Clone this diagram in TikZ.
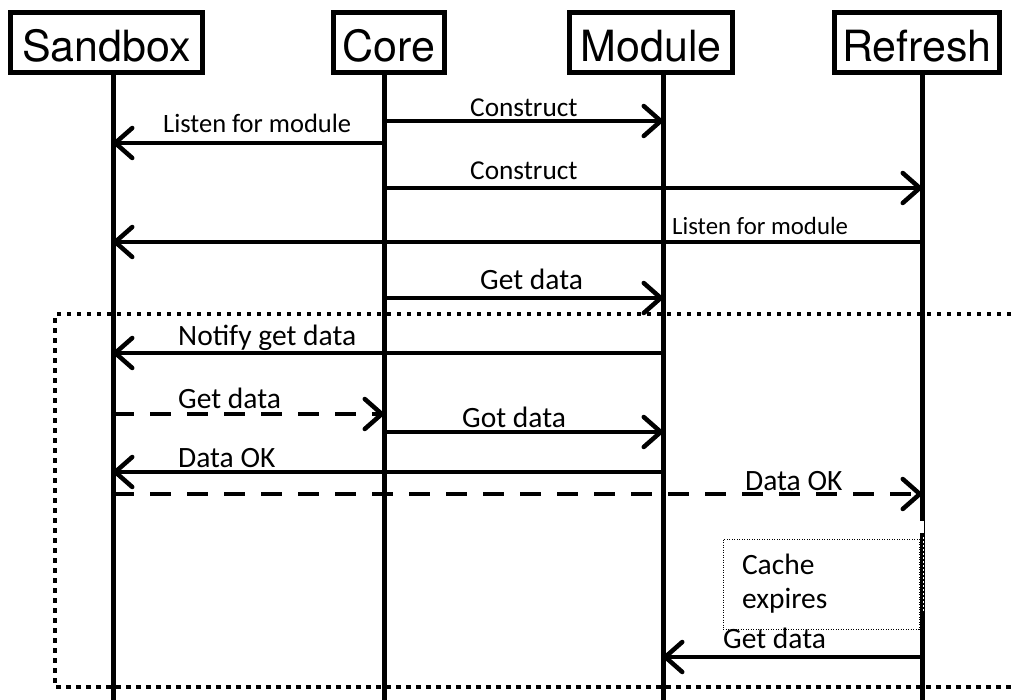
\documentclass[tikz,border=0pt]{standalone}
\usepackage{fontspec}
\setmainfont{Carlito}
\newfontfamily\hdrfont{TeX Gyre Heros}
\usetikzlibrary{arrows.meta}
\begin{document}
\begin{tikzpicture}[x=1pt,y=-1pt,
  actor/.style={draw, line width=5pt, font=\hdrfont\fontsize{43}{50}\selectfont,
    text height=39pt, text depth=0pt, inner sep=0pt, minimum height=60pt},
  life/.style={line width=5pt},
  msg/.style={line width=4.5pt, -{Straight Barb[length=17pt,width=30pt,round]}},
  dmsg/.style={msg, dash pattern=on 21pt off 16pt},
  lbl/.style={font=\fontsize{29.5}{34}\selectfont, inner sep=0pt, anchor=base west},
  frame/.style={line width=4.5pt, dash pattern=on 4.5pt off 5.5pt},
  cachebox/.style={draw, line width=1pt, dash pattern=on 1pt off 1.5pt,
    minimum width=196pt, minimum height=90pt, text width=158pt, inner xsep=19pt,
    align=left, font=\fontsize{29.5}{34}\selectfont},
]
\useasboundingbox[fill=white] (0,0) rectangle (1011,700);

% actors
\node[actor, minimum width=192pt] (sb) at (106.5,42.5) {Sandbox};
\node[actor, minimum width=111pt] (core) at (389,42.5) {Core};
\node[actor, minimum width=163pt] (mod) at (651,42.5) {Module};
\node[actor, minimum width=165pt] (ref) at (917,42.5) {Refresh};

% lifeline ends
\coordinate (sbL) at (113,700);
\coordinate (coreL) at (384,700);
\coordinate (modL) at (663,700);
\coordinate (refL) at (922,700);

\draw[life] (sb.south -| sbL) -- (sbL);
\draw[life] (core.south -| coreL) -- (coreL);
\draw[life] (mod.south -| modL) -- (modL);
\draw[life] (ref.south -| refL) -- (refL);

% frame
\draw[frame] (1011,314) -- (55,314) -- (55,687) -- (1011,687);

% cache box
\node[cachebox] (cache) at (821,584) {Cache\\expires};
\fill[white] (919.5,521) rectangle (923.5,533);
\draw[white, line width=1.5pt, dash pattern=on 2pt off 2pt] (923.5,537) -- (923.5,612);

% messages
\draw[msg] (coreL |- 0,121) -- (modL |- 0,121);
\node[lbl, font=\fontsize{27.3}{31}\selectfont] (m1) at (470,117) {Construct};

\draw[msg] (coreL |- 0,143) -- (sbL |- 0,143);
\node[lbl, font=\fontsize{26.5}{31}\selectfont] (m2) at (163,133) {Listen for module};

\draw[msg] (coreL |- 0,188) -- (refL |- 0,188);
\node[lbl, font=\fontsize{27.3}{31}\selectfont] (m3) at (470,180) {Construct};

\draw[msg] (refL |- 0,242) -- (sbL |- 0,242);
\node[lbl, font=\fontsize{24.8}{31}\selectfont] (m4) at (672,235) {Listen for module};

\draw[msg] (coreL |- 0,298) -- (modL |- 0,298);
\node[lbl] (m5) at (480,290) {Get data};

\draw[msg] (modL |- 0,353) -- (sbL |- 0,353);
\node[lbl] (m6) at (178,345) {Notify get data};

\draw[dmsg] (sbL |- 0,414) -- (coreL |- 0,414);
\node[lbl] (m7) at (178,408) {Get data};

\draw[msg] (coreL |- 0,432) -- (modL |- 0,432);
\node[lbl] (m8) at (462,427) {Got data};

\draw[msg] (modL |- 0,472) -- (sbL |- 0,472);
\node[lbl] (m9) at (178,467) {Data OK};

\draw[dmsg] (sbL |- 0,494) -- (refL |- 0,494);
\node[lbl] (m10) at (745,490) {Data OK};

\draw[msg] (refL |- 0,657) -- (modL |- 0,657);
\node[lbl] (m11) at (723,648) {Get data};
\end{tikzpicture}
\end{document}
